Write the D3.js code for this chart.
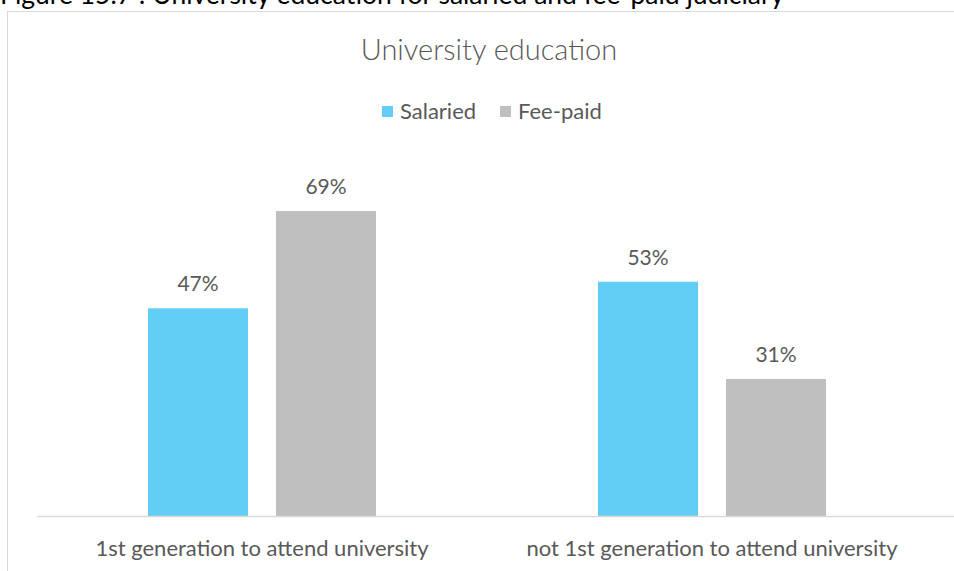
<!DOCTYPE html>
<html><head><meta charset="utf-8">
<script src="https://cdn.jsdelivr.net/npm/d3@7"></script>
<style>body{margin:0;background:#fff}svg{display:block}</style>
</head><body>
<svg id="c" width="954" height="571"></svg>
<script>
const categories = ["1st generation to attend university", "not 1st generation to attend university"];
const seriesNames = ["Salaried", "Fee-paid"];
const salaried = [0.47, 0.53];
const feePaid = [0.69, 0.31];
const colors = ["#63CEF5", "#BFBFBF"];
const caption = "Figure 15.7 : University education for salaried and fee-paid judiciary";
const title = "University education";

const svg = d3.select("#c");
const font = "Lato, 'Open Sans', sans-serif";
const textCol = "#595959";

// caption (clipped at top, as in the source)
svg.append("text").attr("x", 0).attr("y", 4).attr("font-family", font)
  .attr("font-size", 26.5).attr("fill", "#000").text(caption);

// chart frame
svg.append("rect").attr("x", 7.5).attr("y", 11.5).attr("width", 1000).attr("height", 600)
  .attr("fill", "#fff").attr("stroke", "#D9D9D9").attr("stroke-width", 1);

const base = 516;
const y = d3.scaleLinear().domain([0, 0.8]).range([base, base - 0.8 * 442]);
const x0 = d3.scaleBand().domain(categories).range([37, 937]).padding(0);
const x1 = d3.scaleBand().domain(seriesNames).range([111, 339]).paddingInner(0.21875).paddingOuter(0);

const data = categories.map((c, i) => ({cat: c, vals: [salaried[i], feePaid[i]]}));

const g = svg.append("g");
const groups = g.selectAll("g.grp").data(data).join("g")
  .attr("transform", d => `translate(${x0(d.cat)},0)`);
groups.selectAll("rect").data(d => d.vals.map((v, j) => ({v, s: seriesNames[j], j})))
  .join("rect")
  .attr("x", d => x1(d.s)).attr("width", x1.bandwidth())
  .attr("y", d => y(d.v)).attr("height", d => base - y(d.v))
  .attr("fill", d => colors[d.j]);
groups.selectAll("text.val").data(d => d.vals.map((v, j) => ({v, s: seriesNames[j]})))
  .join("text").attr("class", "val")
  .attr("x", d => x1(d.s) + x1.bandwidth() / 2).attr("y", d => y(d.v) - 17)
  .attr("text-anchor", "middle").attr("font-family", font).attr("font-size", 21)
  .attr("fill", textCol).text(d => d3.format(".0%")(d.v));

// axis
const axis = d3.axisBottom(x0).tickSize(0).tickPadding(0);
const ax = svg.append("g").attr("transform", `translate(0,${base})`).call(axis);
ax.select(".domain").remove();
svg.append("line").attr("x1", 37).attr("x2", 954).attr("y1", base + 0.5).attr("y2", base + 0.5)
  .attr("stroke", "#D9D9D9").attr("stroke-width", 1.5);
ax.selectAll("text").attr("dy", null).attr("y", 40).attr("font-family", font)
  .attr("font-size", 22).attr("fill", textCol);

// title
svg.append("text").attr("x", 489).attr("y", 60).attr("text-anchor", "middle")
  .attr("font-family", font).attr("font-size", 29).attr("font-weight", 300)
  .attr("fill", textCol).text(title);

// legend
const legX = [382, 500];
const leg = svg.append("g");
seriesNames.forEach((s, i) => {
  leg.append("rect").attr("x", legX[i]).attr("y", 106).attr("width", 11).attr("height", 11).attr("fill", colors[i]);
  leg.append("text").attr("x", legX[i] + 18).attr("y", 119).attr("font-family", font)
    .attr("font-size", 22).attr("fill", textCol).text(s);
});
</script>
</body></html>
